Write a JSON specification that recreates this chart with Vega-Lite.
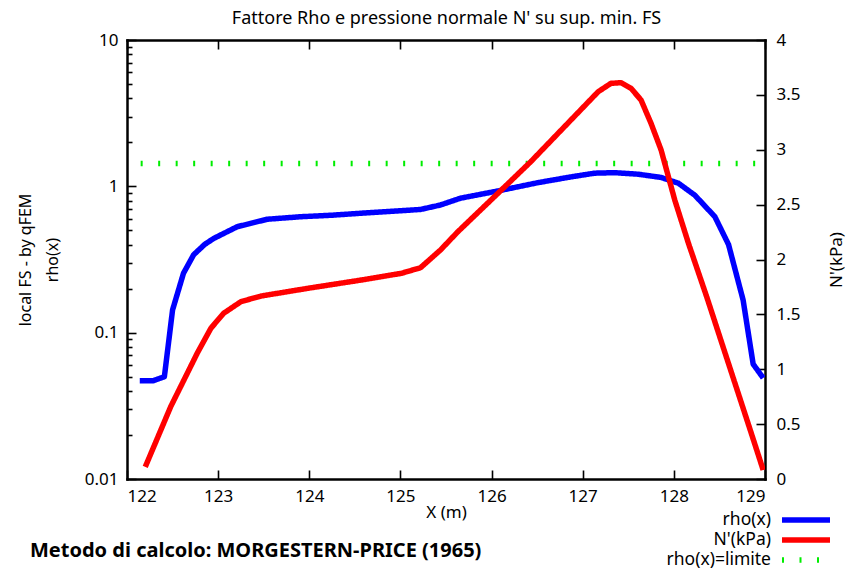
{
  "$schema": "https://vega.github.io/schema/vega-lite/v6.json",
  "width": 638,
  "height": 439,
  "autosize": "none",
  "padding": {"left": 127, "top": 40, "right": 91, "bottom": 90},
  "background": "white",
  "config": {
    "font": "Noto Sans",
    "view": {"stroke": null},
    "axis": {
      "grid": false,
      "domainColor": "black",
      "domainWidth": 2.5,
      "domainCap": "square",
      "tickColor": "black",
      "tickWidth": 1.6,
      "labelFontSize": 17,
      "labelColor": "black",
      "labelFont": "Noto Sans",
      "titleFont": "Noto Sans",
      "titleFontSize": 16,
      "titleFontWeight": "normal",
      "titleColor": "black"
    },
    "line": {"strokeCap": "butt", "strokeJoin": "round"}
  },
  "title": {
    "text": "Metodo di calcolo: MORGESTERN-PRICE (1965)",
    "orient": "bottom",
    "anchor": "start",
    "frame": "group",
    "dx": -97,
    "offset": -28,
    "fontSize": 20,
    "fontWeight": "bold",
    "font": "Noto Sans",
    "color": "black"
  },
  "datasets": {
    "rho": [
      {"X": 122.14, "v": 0.047, "series": "rho(x)"},
      {"X": 122.29, "v": 0.047, "series": "rho(x)"},
      {"X": 122.41, "v": 0.050, "series": "rho(x)"},
      {"X": 122.50, "v": 0.143, "series": "rho(x)"},
      {"X": 122.62, "v": 0.255, "series": "rho(x)"},
      {"X": 122.73, "v": 0.34, "series": "rho(x)"},
      {"X": 122.85, "v": 0.40, "series": "rho(x)"},
      {"X": 122.95, "v": 0.44, "series": "rho(x)"},
      {"X": 123.21, "v": 0.53, "series": "rho(x)"},
      {"X": 123.54, "v": 0.596, "series": "rho(x)"},
      {"X": 123.91, "v": 0.62, "series": "rho(x)"},
      {"X": 124.25, "v": 0.635, "series": "rho(x)"},
      {"X": 124.57, "v": 0.655, "series": "rho(x)"},
      {"X": 124.90, "v": 0.675, "series": "rho(x)"},
      {"X": 125.22, "v": 0.695, "series": "rho(x)"},
      {"X": 125.44, "v": 0.746, "series": "rho(x)"},
      {"X": 125.66, "v": 0.83, "series": "rho(x)"},
      {"X": 126.07, "v": 0.93, "series": "rho(x)"},
      {"X": 126.51, "v": 1.06, "series": "rho(x)"},
      {"X": 126.87, "v": 1.16, "series": "rho(x)"},
      {"X": 127.13, "v": 1.23, "series": "rho(x)"},
      {"X": 127.35, "v": 1.24, "series": "rho(x)"},
      {"X": 127.61, "v": 1.21, "series": "rho(x)"},
      {"X": 127.86, "v": 1.15, "series": "rho(x)"},
      {"X": 128.05, "v": 1.05, "series": "rho(x)"},
      {"X": 128.23, "v": 0.87, "series": "rho(x)"},
      {"X": 128.45, "v": 0.62, "series": "rho(x)"},
      {"X": 128.60, "v": 0.40, "series": "rho(x)"},
      {"X": 128.76, "v": 0.167, "series": "rho(x)"},
      {"X": 128.87, "v": 0.061, "series": "rho(x)"},
      {"X": 128.98, "v": 0.049, "series": "rho(x)"},
      {"X": 122.15, "v": 1.43, "series": "rho(x)=limite"},
      {"X": 129.0, "v": 1.43, "series": "rho(x)=limite"}
    ],
    "press": [
      {"X": 122.20, "N": 0.11, "series": "N'(kPa)"},
      {"X": 122.48, "N": 0.66, "series": "N'(kPa)"},
      {"X": 122.77, "N": 1.145, "series": "N'(kPa)"},
      {"X": 122.92, "N": 1.373, "series": "N'(kPa)"},
      {"X": 123.06, "N": 1.51, "series": "N'(kPa)"},
      {"X": 123.25, "N": 1.616, "series": "N'(kPa)"},
      {"X": 123.47, "N": 1.667, "series": "N'(kPa)"},
      {"X": 123.98, "N": 1.737, "series": "N'(kPa)"},
      {"X": 124.57, "N": 1.813, "series": "N'(kPa)"},
      {"X": 125.01, "N": 1.874, "series": "N'(kPa)"},
      {"X": 125.22, "N": 1.925, "series": "N'(kPa)"},
      {"X": 125.44, "N": 2.087, "series": "N'(kPa)"},
      {"X": 125.63, "N": 2.253, "series": "N'(kPa)"},
      {"X": 126.07, "N": 2.603, "series": "N'(kPa)"},
      {"X": 126.43, "N": 2.891, "series": "N'(kPa)"},
      {"X": 126.80, "N": 3.21, "series": "N'(kPa)"},
      {"X": 127.17, "N": 3.529, "series": "N'(kPa)"},
      {"X": 127.31, "N": 3.605, "series": "N'(kPa)"},
      {"X": 127.42, "N": 3.611, "series": "N'(kPa)"},
      {"X": 127.53, "N": 3.56, "series": "N'(kPa)"},
      {"X": 127.64, "N": 3.453, "series": "N'(kPa)"},
      {"X": 127.75, "N": 3.24, "series": "N'(kPa)"},
      {"X": 127.86, "N": 2.998, "series": "N'(kPa)"},
      {"X": 128.01, "N": 2.542, "series": "N'(kPa)"},
      {"X": 128.16, "N": 2.148, "series": "N'(kPa)"},
      {"X": 128.36, "N": 1.661, "series": "N'(kPa)"},
      {"X": 128.85, "N": 0.416, "series": "N'(kPa)"},
      {"X": 128.98, "N": 0.082, "series": "N'(kPa)"}
    ]
  },
  "layer": [
    {
      "data": {"name": "rho"},
      "mark": {"type": "line", "clip": true},
      "encoding": {
        "x": {
          "field": "X", "type": "quantitative",
          "scale": {"domain": [122, 129], "nice": false, "zero": false},
          "axis": {
            "orient": "bottom",
            "values": [122, 123, 124, 125, 126, 127, 128, 129],
            "tickSize": -9,
            "labelPadding": 18,
            "title": "X (m)",
            "titlePadding": 0,
            "titleFontSize": 17
          }
        },
        "y": {
          "field": "v", "type": "quantitative",
          "scale": {"type": "log", "domain": [0.01, 10], "nice": false},
          "axis": {
            "orient": "left",
            "values": [0.01, 0.02, 0.03, 0.04, 0.05, 0.06, 0.07, 0.08, 0.09, 0.1, 0.2, 0.3, 0.4, 0.5, 0.6, 0.7, 0.8, 0.9, 1, 2, 3, 4, 5, 6, 7, 8, 9, 10],
            "labelExpr": "(datum.value == 0.01 || datum.value == 0.1 || datum.value == 1 || datum.value == 10) ? datum.label : ''",
            "tickSize": {"condition": {"test": "datum.value == 0.01 || datum.value == 0.1 || datum.value == 1 || datum.value == 10", "value": -9}, "value": -5},
            "labelPadding": 18,
            "title": ["local FS - by qFEM", "rho(x)"],
            "titleLineHeight": 27,
            "titlePadding": 24,
            "titleFontSize": 16
          }
        },
        "color": {
          "field": "series", "type": "nominal",
          "scale": {"domain": ["rho(x)", "N'(kPa)", "rho(x)=limite"], "range": ["#0000ff", "#ff0000", "#00ee00"]},
          "legend": {
            "orient": "none",
            "legendX": 668,
            "legendY": 469,
            "title": null,
            "symbolType": "M-3,0H3",
            "symbolSize": 256,
            "labelAlign": "right",
            "labelOffset": -46,
            "labelFontSize": 17.5,
            "labelColor": "black",
            "rowPadding": 0
          }
        },
        "strokeDash": {
          "field": "series", "type": "nominal",
          "scale": {"domain": ["rho(x)", "N'(kPa)", "rho(x)=limite"], "range": [[1, 0], [1, 0], [2, 15.5]]}
        },
        "strokeWidth": {
          "field": "series", "type": "nominal",
          "scale": {"domain": ["rho(x)", "N'(kPa)", "rho(x)=limite"], "range": [5.5, 5.5, 4]}
        }
      }
    },
    {
      "data": {"name": "press"},
      "mark": {"type": "line", "clip": true},
      "encoding": {
        "x": {
          "field": "X", "type": "quantitative",
          "scale": {"domain": [122, 129], "nice": false, "zero": false},
          "axis": {
            "orient": "top",
            "values": [122, 123, 124, 125, 126, 127, 128, 129],
            "tickSize": -9,
            "labels": false,
            "title": "Fattore Rho e pressione normale N' su sup. min. FS",
            "titlePadding": 12,
            "titleFontSize": 18
          }
        },
        "y": {
          "field": "N", "type": "quantitative",
          "scale": {"domain": [0, 4], "nice": false},
          "axis": {
            "orient": "right",
            "values": [0, 0.5, 1, 1.5, 2, 2.5, 3, 3.5, 4],
            "format": "~g",
            "tickSize": -9,
            "labelPadding": 20,
            "title": "N'(kPa)",
            "titleAngle": 270,
            "titlePadding": 45,
            "titleFontSize": 17
          }
        },
        "color": {
          "field": "series", "type": "nominal",
          "scale": {"domain": ["rho(x)", "N'(kPa)", "rho(x)=limite"], "range": ["#0000ff", "#ff0000", "#00ee00"]}
        },
        "strokeDash": {
          "field": "series", "type": "nominal",
          "scale": {"domain": ["rho(x)", "N'(kPa)", "rho(x)=limite"], "range": [[1, 0], [1, 0], [2, 15.5]]}
        },
        "strokeWidth": {
          "field": "series", "type": "nominal",
          "scale": {"domain": ["rho(x)", "N'(kPa)", "rho(x)=limite"], "range": [5.5, 5.5, 4]}
        }
      }
    }
  ],
  "resolve": {
    "scale": {"y": "independent"},
    "axis": {"x": "independent", "y": "independent"}
  }
}
